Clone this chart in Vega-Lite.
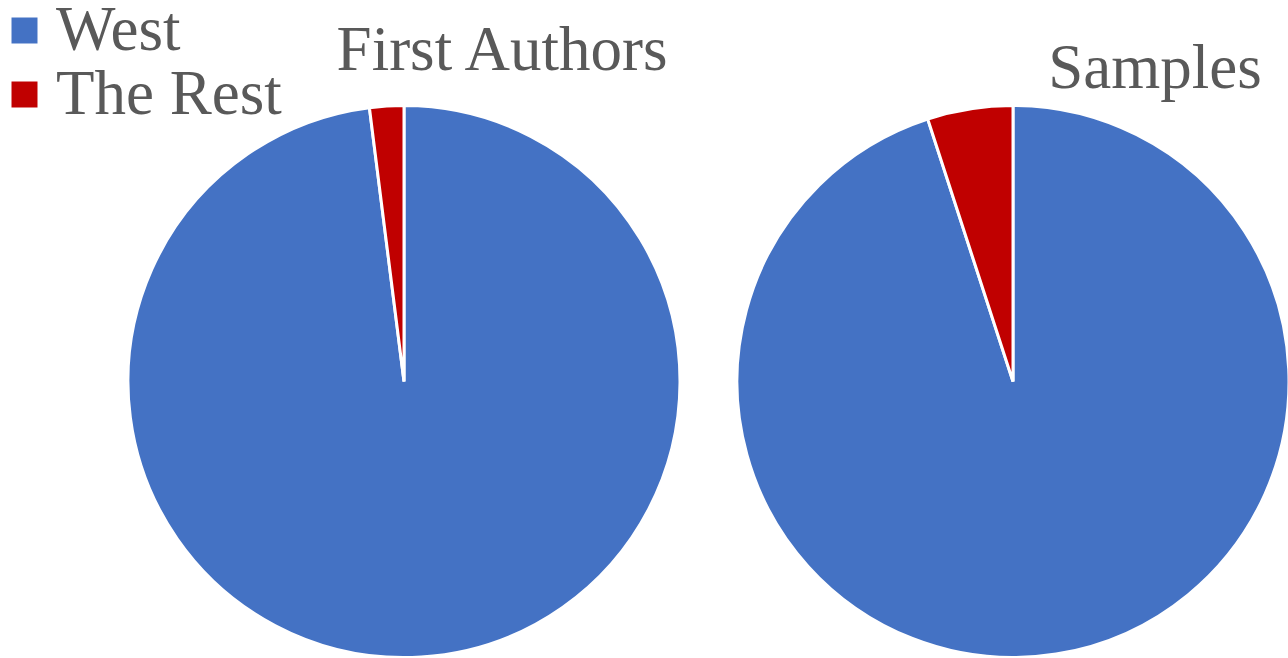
{
  "$schema": "https://vega.github.io/schema/vega-lite/v6.json",
  "padding": {"left": -7, "top": -1.5, "right": 0, "bottom": 0},
  "background": "white",
  "datasets": {
    "pies": [
      {"chart": "First Authors", "group": "West", "ord": 1, "value": 98},
      {"chart": "First Authors", "group": "The Rest", "ord": 2, "value": 2},
      {"chart": "Samples", "group": "West", "ord": 1, "value": 95},
      {"chart": "Samples", "group": "The Rest", "ord": 2, "value": 5}
    ]
  },
  "config": {
    "view": {"stroke": null},
    "font": "Liberation Serif",
    "title": {"font": "Liberation Serif", "fontSize": 63, "fontWeight": "normal", "color": "#595959"},
    "legend": {"labelFont": "Liberation Serif", "labelFontSize": 63, "labelColor": "#595959", "labelLimit": 500}
  },
  "spacing": 45,
  "hconcat": [
    {
      "width": 552,
      "height": 552,
      "title": {"text": "First Authors", "anchor": "middle", "dx": 98, "offset": 17},
      "data": {"name": "pies"},
      "transform": [{"filter": "datum.chart === 'First Authors'"}],
      "mark": {"type": "arc", "stroke": "white", "strokeWidth": 3},
      "encoding": {
        "theta": {"field": "value", "type": "quantitative", "stack": true},
        "order": {"field": "ord", "type": "quantitative"},
        "color": {
          "field": "group", "type": "nominal",
          "scale": {"domain": ["West", "The Rest"], "range": ["#4472C4", "#C00000"]},
          "legend": {"title": null, "orient": "none", "legendX": -135, "legendY": -106.5, "symbolType": "square", "symbolSize": 676, "symbolStrokeWidth": 0, "rowPadding": -3, "labelOffset": 0}
        }
      }
    },
    {
      "width": 552,
      "height": 552,
      "title": {"text": "Samples", "anchor": "middle", "dx": 142, "offset": -1},
      "data": {"name": "pies"},
      "transform": [{"filter": "datum.chart === 'Samples'"}],
      "mark": {"type": "arc", "stroke": "white", "strokeWidth": 3},
      "encoding": {
        "theta": {"field": "value", "type": "quantitative", "stack": true},
        "order": {"field": "ord", "type": "quantitative"},
        "color": {
          "field": "group", "type": "nominal",
          "scale": {"domain": ["West", "The Rest"], "range": ["#4472C4", "#C00000"]}
        }
      }
    }
  ]
}
